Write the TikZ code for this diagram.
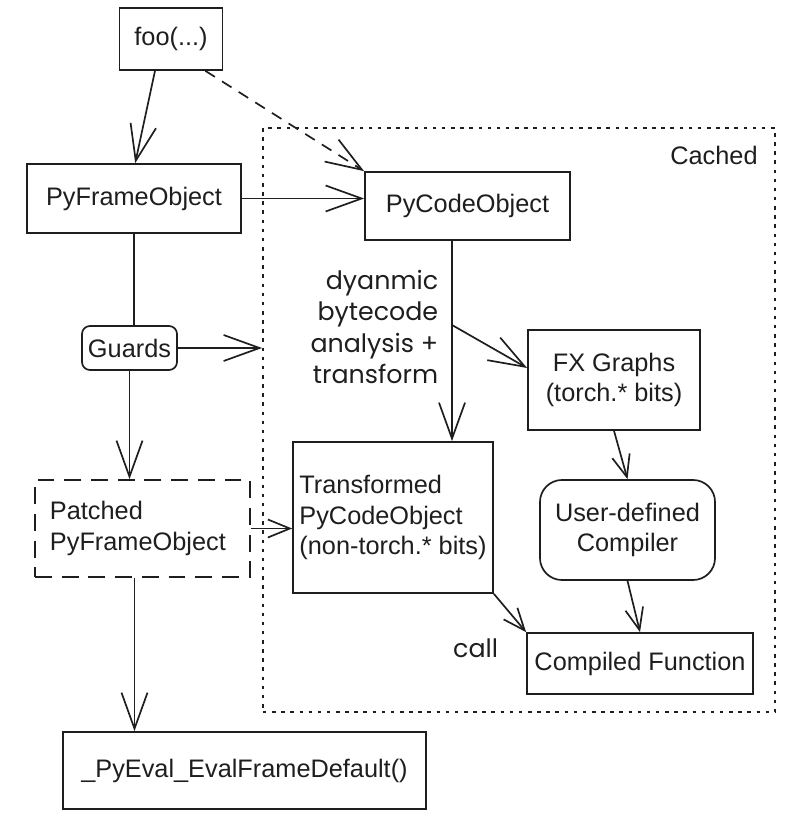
\documentclass[tikz,border=0pt]{standalone}
\usepackage{fontspec}
\setmainfont{Liberation Sans}
\newfontfamily\handfont{Poppins}
\usepackage{tikz}
\usetikzlibrary{arrows.meta}
\definecolor{SketchInk}{HTML}{1E1E1E}

\begin{document}
\begin{tikzpicture}[
  x=0.025cm,y=-0.025cm,
  font=\fontsize{18}{21.5}\selectfont,
  color=SketchInk,
  line width=1.2pt,
  box/.style={draw,inner sep=0pt,align=center},
  roundbox/.style={box,rounded corners=0.55cm},
  note/.style={font=\handfont\fontsize{18}{22.5}\selectfont,align=right,inner sep=0pt},
  arrowbig/.style={-{Straight Barb[length=9mm,width=6.5mm]}},
  arrowsmall/.style={-{Straight Barb[length=5.5mm,width=4.5mm]}},
]
  \useasboundingbox (0,0) rectangle (785,819);

  \node[draw,dash pattern=on 2.5pt off 4pt,minimum width=12.8cm,minimum height=14.6cm] (cached) at (519,420) {};
  \node (cachedlabel) at (714,155) {Cached};

  \node[box,minimum width=2.575cm,minimum height=1.55cm] (foo) at (171,39) {foo(...)};
  \node[box,minimum width=5.35cm,minimum height=1.725cm] (frame) at (134,198.5) {PyFrameObject};
  \node[box,minimum width=5.125cm,minimum height=1.7cm] (code) at (467.5,206) {PyCodeObject};
  \node[box,rounded corners=0.2cm,minimum width=2.375cm,minimum height=1.1cm] (guards) at (129.5,348) {Guards};
  \node[box,minimum width=4.3cm,minimum height=2.5cm] (fx) at (614,380) {FX Graphs\\(torch.* bits)};
  \node[roundbox,minimum width=4.375cm,minimum height=2.5cm] (compiler) at (627.5,530) {User-defined\\Compiler};
  \node[box,align=left,minimum width=5cm,minimum height=3.775cm] (transformed) at (393,517.5)
    {Transformed\\PyCodeObject\\(non-torch.* bits)};
  \node[box,dash pattern=on 12pt off 7pt,align=left,text width=4.625cm,minimum width=5.375cm,minimum height=2.425cm] (patched) at (142.5,528.5)
    {Patched\\PyFrameObject};
  \node[box,minimum width=5.65cm,minimum height=1.525cm] (compiled) at (640,663.5) {Compiled Function};
  \node[box,minimum width=9.075cm,minimum height=1.925cm] (eval) at (244.5,770.5) {\_PyEval\_EvalFrameDefault()};

  \node[note,anchor=east] (analysis) at (439,327) {dyanmic\\bytecode\\analysis +\\transform};
  \node[note,anchor=east] (call) at (499,648) {call};

  \draw[arrowbig] ([xshift=-0.4cm]foo.south) -- ([xshift=0.03cm]frame.north);
  \draw[arrowbig,dash pattern=on 8pt off 6pt] ([xshift=-0.45cm]foo.south east) -- (code.north west);
  \draw[arrowbig] (frame.east) -- (frame.east -| code.west);
  \draw (frame.south) -- (frame.south |- guards.north);
  \draw[arrowbig] (guards.east) -- (guards.east -| cached.west);
  \draw[arrowbig] (guards.south) -- (guards.south |- patched.north);
  \draw[arrowsmall] (patched.east) -- (patched.east -| transformed.west);
  \draw[arrowbig] ([xshift=-0.2cm]patched.south) -- ([xshift=-0.2cm]patched.south |- eval.north);

  \coordinate (fork) at (452,325);
  \draw[arrowbig] (code.south -| fork) -- (fork |- transformed.north);
  \draw[arrowbig] (fork) -- ([yshift=0.3cm]fx.west);
  \draw[arrowsmall] (fx.south) -- (compiler.north);
  \draw[arrowsmall] (compiler.south) -- (compiled.north);
  \draw[arrowsmall] (transformed.south east) -- (compiled.north west);
\end{tikzpicture}
\end{document}
